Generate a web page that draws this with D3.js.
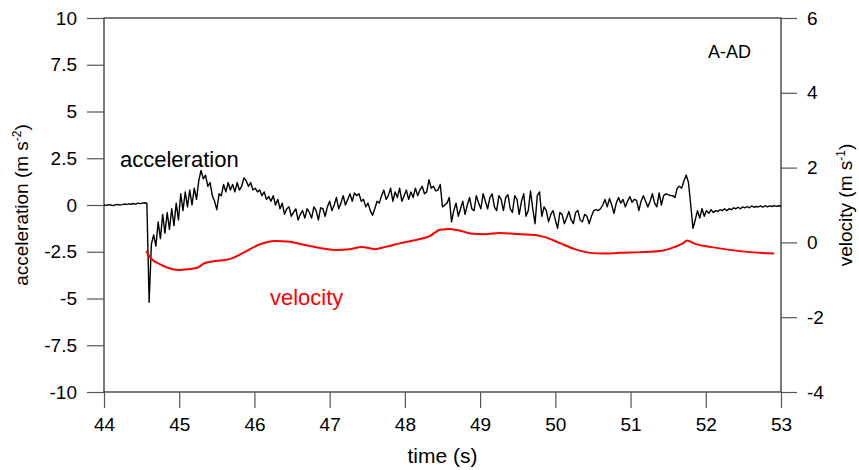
<!DOCTYPE html>
<html>
<head>
<meta charset="utf-8">
<script src="https://cdn.jsdelivr.net/npm/d3@7"></script>
<style>
  body { margin: 0; background: #fff; }
  text { font-family: "Liberation Sans", Arial, sans-serif; }
</style>
</head>
<body>
<svg id="chart" width="859" height="470"></svg>
<script>
const accStart = 44, accStep = 0.03;
const accValues = [
  0, -0.02, 0.02, 0, -0.03, 0.01, 0.03, 0, 0.02, 0.05,
  0.03, 0.06, 0.04, 0.08, 0.05, 0.1, 0.07, 0.1, 0.12, 0.08,
  -5.2, -2.1, -1.6, -2.2, -0.9, -1.8, -0.5, -1.5, -0.4, -1.3,
  -0.2, -1.1, 0.1, -0.8, 0.6, -0.3, 0.7, -0.1, 0.8, 0.0,
  0.9, 0.3, 1.3, 1.85, 1.4, 1.6, 1.0, 1.2, 0.5, 0.2,
  -0.25, 0.6, 0.5, 1.1, 0.7, 1.2, 0.8, 1.1, 0.7, 1.2,
  0.8, 1.0, 1.45, 1.3, 1.0, 1.2, 0.8, 0.9, 0.7, 0.8,
  0.5, 0.7, 0.3, 0.45, 0.2, 0.5, 0.0, 0.3, -0.2, 0.1,
  -0.5, -0.2, -0.1, -0.6, -0.4, -0.2, -0.8, -0.5, -0.3, -0.7,
  -0.2, -0.4, -0.7, -0.1, -0.3, -0.8, -0.15, -0.2, -0.6, -0.1,
  0.2, -0.3, 0.0, 0.4, -0.2, 0.1, 0.5, 0.0, 0.3, 0.6,
  0.2, 0.65, 0.5, 0.6, 0.2, 0.3, -0.1, 0.1, -0.3, -0.55,
  -0.2, 0.2, 0.1, 0.5, 0.8, 0.3, 0.5, 0.9, 0.2, 0.7,
  0.4, 0.9, 0.2, 0.5, 0.8, 0.3, 0.7, 0.4, 0.9, 0.5,
  0.8, 1.0, 0.6, 0.7, 1.35, 0.9, 1.0, 0.75, 0.8, 1.1,
  -0.1, 0.0, 0.1, 0.4, -0.9, -0.3, 0.1, -0.6, -0.2, 0.2,
  -0.5, 0.0, 0.4, -0.2, -0.3, 0.5, 0.1, -0.2, 0.6, 0.2,
  -0.2, 0.4, 0.6, -0.1, -0.3, 0.5, 0.3, -0.3, 0.4, 0.55,
  -0.2, -0.4, 0.5, 0.3, -0.5, 0.2, 0.6, -0.6, -0.3, 0.75,
  -0.2, -1.0, 0.5, 0.7, -0.6, -0.1, -0.3, -0.9, -0.5, -0.3,
  -0.8, -1.25, -0.4, -0.5, -1.0, -0.7, -0.35, -0.8, -1.0, -0.4,
  -0.3, -0.8, -0.9, -0.5, -0.6, -1.0, -0.6, -0.3, -0.25, -0.3,
  -0.2, 0.0, 0.3, -0.1, 0.35, 0.0, -0.45, 0.1, 0.4, 0.1,
  0.3, -0.1, 0.2, 0.45, 0.15, 0.3, 0.25, -0.3, 0.2, 0.5,
  0.2, -0.1, 0.2, 0.6, 0.1, -0.1, 0.65, 0.0, 0.5, 0.6,
  0.55, 0.5, 0.5, 0.4, 0.9, 1.0, 0.9, 1.3, 1.6, 1.2,
  0.0, -1.25, -0.8, -0.3, -0.7, -0.2, -0.6, -0.3, -0.45, -0.25,
  -0.4, -0.3, -0.35, -0.25, -0.3, -0.2, -0.3, -0.2, -0.25, -0.15,
  -0.2, -0.12, -0.2, -0.1, -0.15, -0.08, -0.15, -0.05, -0.12, -0.08,
  -0.1, -0.05, -0.12, -0.04, -0.1, -0.05, -0.08, -0.03, -0.07, -0.04,
  -0.05
];

// velocity
const velTime = [44.56, 44.62, 44.74, 44.90, 45.01, 45.14, 45.24, 45.34, 45.48, 45.68,
  45.87, 46.05, 46.27, 46.47, 46.67, 46.87, 47.07, 47.27, 47.43, 47.60,
  47.74, 47.94, 48.20, 48.33, 48.47, 48.60, 48.76, 48.87, 49.07, 49.26,
  49.53, 49.73, 49.86, 50.06, 50.26, 50.46, 50.66, 50.86, 51.13, 51.39,
  51.59, 51.70, 51.75, 51.86, 52.06, 52.32, 52.59, 52.91];
const velValues = [-0.23, -0.42, -0.58, -0.71, -0.74, -0.71, -0.68, -0.55, -0.50, -0.44,
  -0.26, -0.07, 0.04, 0.02, -0.07, -0.15, -0.20, -0.18, -0.12, -0.18,
  -0.12, -0.02, 0.09, 0.17, 0.34, 0.36, 0.30, 0.24, 0.22, 0.25,
  0.22, 0.20, 0.14, -0.02, -0.18, -0.28, -0.30, -0.28, -0.26, -0.23,
  -0.12, -0.02, 0.05, -0.04, -0.12, -0.20, -0.26, -0.30];

const timeTicks = [44, 45, 46, 47, 48, 49, 50, 51, 52, 53];
const accTicks = [-10, -7.5, -5, -2.5, 0, 2.5, 5, 7.5, 10];
const velTicks = [-4, -2, 0, 2, 4, 6];

const margin = {left: 104, right: 78, top: 18, bottom: 78};
const svg = d3.select("#chart");
const W = +svg.attr("width"), H = +svg.attr("height");
const innerW = W - margin.left - margin.right;
const innerH = H - margin.top - margin.bottom;

const x = d3.scaleLinear().domain([44, 53]).range([margin.left, margin.left + innerW]);
const yAcc = d3.scaleLinear().domain([-10, 10]).range([margin.top + innerH, margin.top]);
const yVel = d3.scaleLinear().domain([-4, 6]).range([margin.top + innerH, margin.top]);

const fmt = d => String(d);

// frame
svg.append("rect")
  .attr("x", margin.left).attr("y", margin.top)
  .attr("width", innerW).attr("height", innerH)
  .attr("fill", "none").attr("stroke", "#222").attr("stroke-width", 1.2);

let axisStyle = (g, labelSize) => {
  g.select(".domain").remove();
  g.selectAll(".tick line").attr("stroke", "#555").attr("stroke-width", 1.2);
  g.selectAll(".tick text").attr("fill", "#000").style("font-size", labelSize + "px");
};

svg.append("g")
  .attr("transform", `translate(0,${margin.top + innerH})`)
  .call(d3.axisBottom(x).tickValues(timeTicks).tickFormat(fmt).tickSize(16).tickPadding(10))
  .call(g => axisStyle(g, 19));

svg.append("g")
  .attr("transform", `translate(${margin.left},0)`)
  .call(d3.axisLeft(yAcc).tickValues(accTicks).tickFormat(fmt).tickSize(17).tickPadding(10))
  .call(g => axisStyle(g, 19));

svg.append("g")
  .attr("transform", `translate(${margin.left + innerW},0)`)
  .call(d3.axisRight(yVel).tickValues(velTicks).tickFormat(fmt).tickSize(16).tickPadding(10))
  .call(g => axisStyle(g, 19));

// axis titles
svg.append("text")
  .attr("x", x(48.5)).attr("y", 463)
  .attr("text-anchor", "middle").style("font-size", "21px")
  .text("time (s)");

const accTitle = svg.append("text")
  .attr("transform", `translate(28,${margin.top + innerH / 2}) rotate(-90)`)
  .attr("text-anchor", "middle").style("font-size", "19px");
accTitle.append("tspan").text("acceleration (m s");
accTitle.append("tspan").attr("baseline-shift", "super").style("font-size", "12px").text("-2");
accTitle.append("tspan").text(")");

const velTitle = svg.append("text")
  .attr("transform", `translate(852,${margin.top + innerH / 2}) rotate(-90)`)
  .attr("text-anchor", "middle").style("font-size", "19px");
velTitle.append("tspan").text("velocity (m s");
velTitle.append("tspan").attr("baseline-shift", "super").style("font-size", "12px").text("-1");
velTitle.append("tspan").text(")");

// series
const accData = accValues.map((v, i) => [accStart + i * accStep, v]);
const velData = velTime.map((t, i) => [t, velValues[i]]);

svg.append("path")
  .datum(accData)
  .attr("fill", "none").attr("stroke", "#000").attr("stroke-width", 1.4)
  .attr("stroke-linejoin", "round")
  .attr("d", d3.line().x(d => x(d[0])).y(d => yAcc(d[1])));

svg.append("path")
  .datum(velData)
  .attr("fill", "none").attr("stroke", "#ff0000").attr("stroke-width", 2)
  .attr("d", d3.line().curve(d3.curveMonotoneX).x(d => x(d[0])).y(d => yVel(d[1])));

// annotations
svg.append("text").attr("x", 120).attr("y", 167)
  .style("font-size", "22px").text("acceleration");
svg.append("text").attr("x", 270).attr("y", 305)
  .attr("fill", "#ff0000").style("font-size", "22px").text("velocity");
svg.append("text").attr("x", 708).attr("y", 58)
  .style("font-size", "18px").text("A-AD");
</script>
</body>
</html>
